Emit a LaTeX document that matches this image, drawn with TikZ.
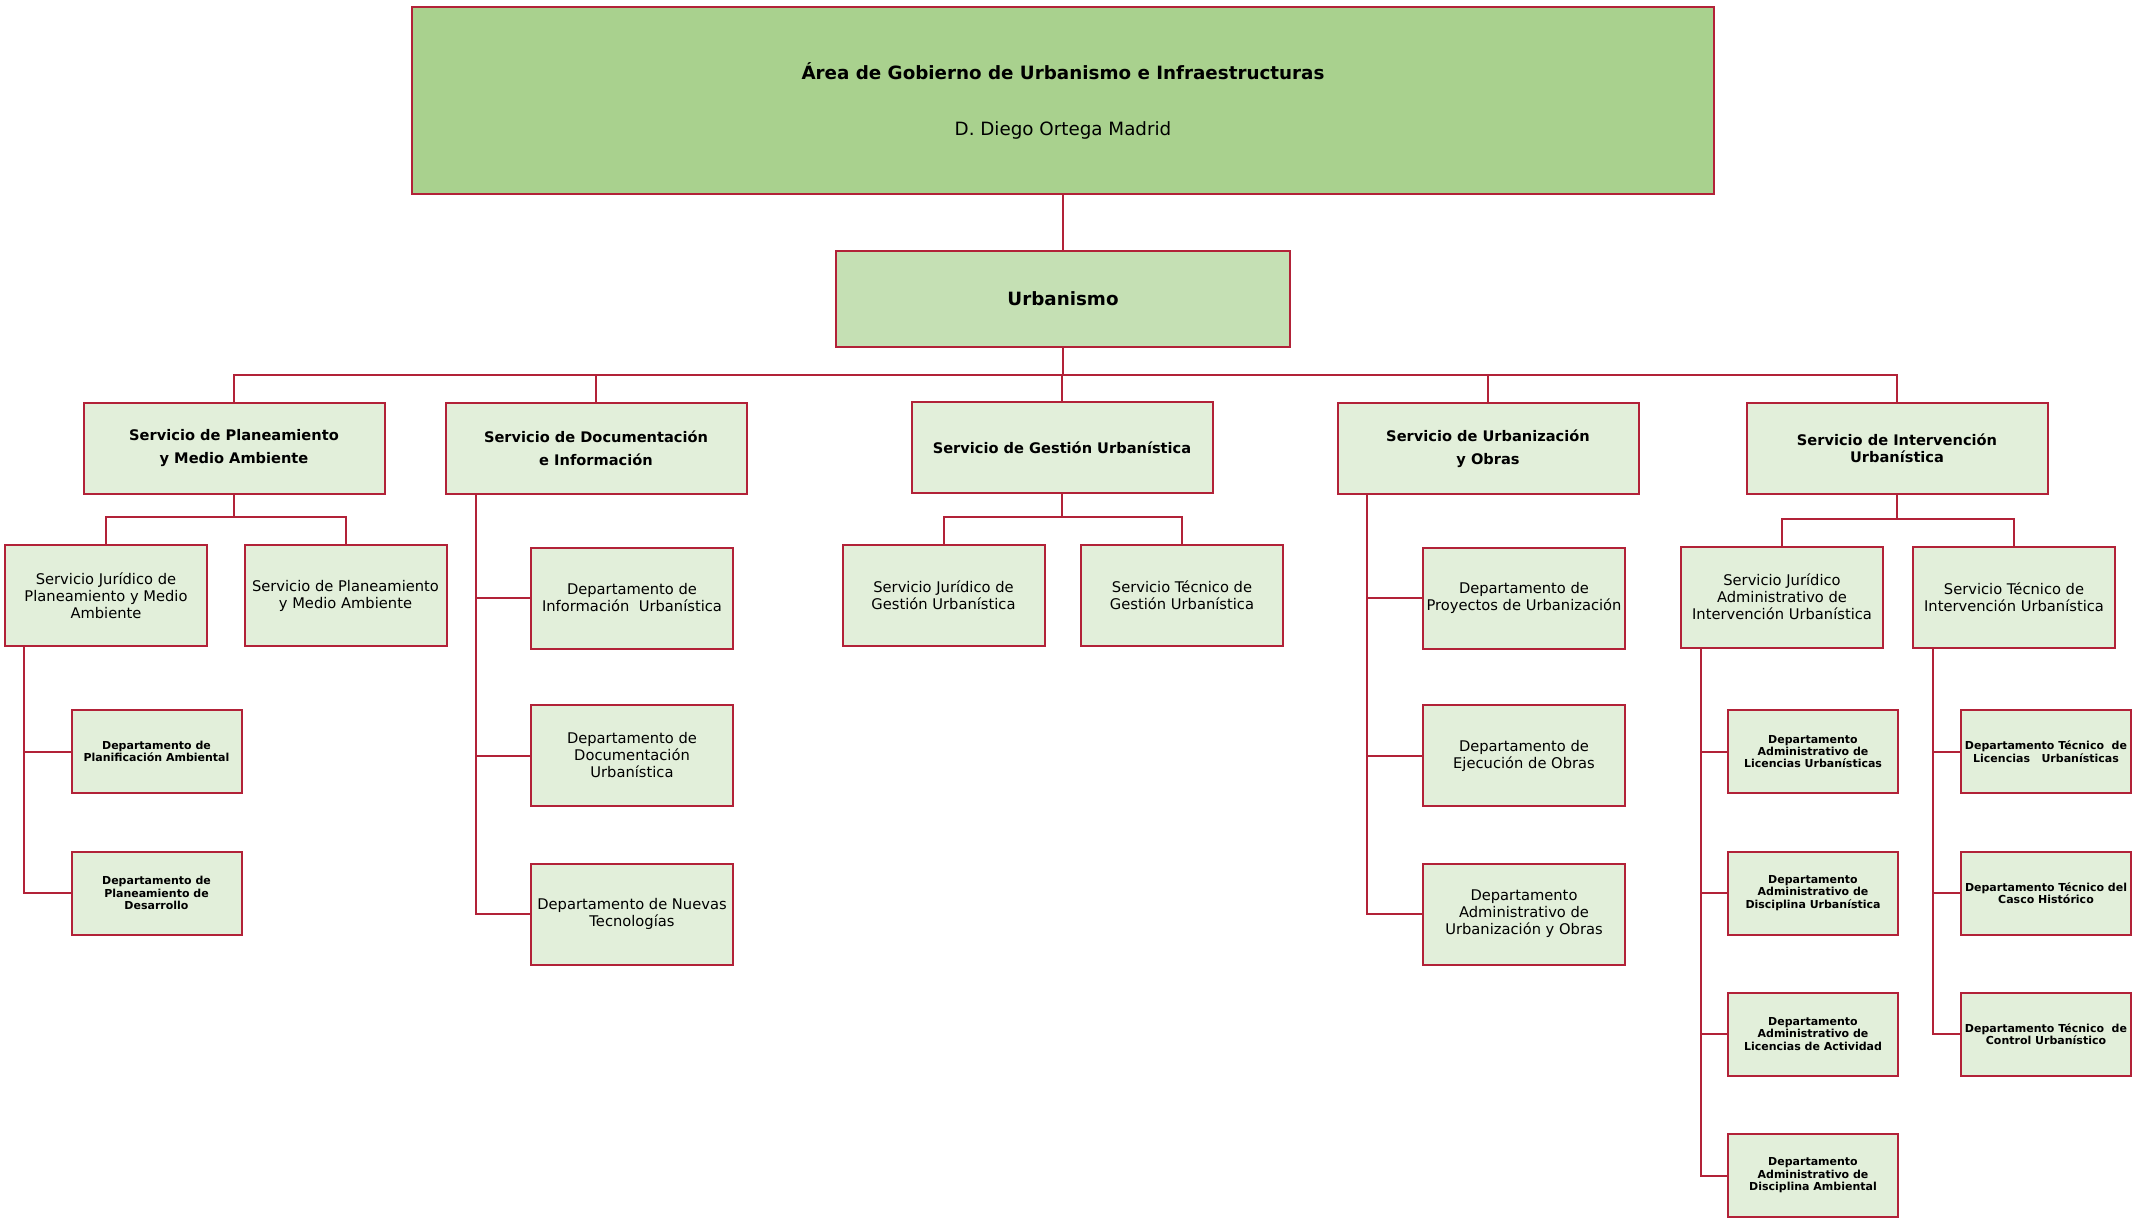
\documentclass[tikz,border=0pt]{standalone}
\usepackage{fontspec}
\setmainfont{DejaVu Sans}
\usetikzlibrary{calc}
\definecolor{lred}{RGB}{178,34,56}
\definecolor{topgreen}{HTML}{A9D18E}
\definecolor{midgreen}{HTML}{C5E0B4}
\definecolor{lightg}{HTML}{E2EFDA}
\tikzset{
  base/.style={draw=lred, line width=2pt, inner sep=1pt, align=center, anchor=center},
  topbox/.style={base, fill=topgreen, minimum width=1302pt, minimum height=187pt, font=\fontsize{18.3}{21}\selectfont},
  urbbox/.style={base, fill=midgreen, minimum width=454pt, minimum height=96pt, font=\fontsize{18.3}{21}\selectfont\bfseries},
  svc/.style={base, fill=lightg, minimum width=301pt, minimum height=91pt, font=\fontsize{14.6}{17}\selectfont\bfseries},
  sub/.style={base, fill=lightg, minimum width=202pt, minimum height=101pt, font=\fontsize{14.7}{17}\selectfont},
  small/.style={base, fill=lightg, minimum width=170pt, minimum height=83pt, font=\fontsize{11}{12.4}\selectfont\bfseries},
  conn/.style={draw=lred, line width=2pt}
}
\begin{document}
\begin{tikzpicture}[x=1pt,y=-1pt]
\useasboundingbox (0,0) rectangle (2152,1219);
\coordinate (bus1) at (0,375);
\coordinate (bus2) at (0,517);
\coordinate (bus3) at (0,519);

% level 0/1
\node[topbox] (top) at (1063,100.5) {{\bfseries Área de Gobierno de Urbanismo e Infraestructuras}\\[35pt]D. Diego Ortega Madrid};
\node[urbbox] (urb) at (1063,299) {Urbanismo};

% level 2
\node[svc] (spma) at (234,448.5) {Servicio de Planeamiento\\[6pt]y Medio Ambiente};
\node[svc] (sdi) at (596,448.5) {Servicio de Documentación\\[6pt]e Información};
\node[svc] (sgu) at (1062,447.5) {Servicio de Gestión Urbanística};
\node[svc] (suo) at (1488,448.5) {Servicio de Urbanización\\[6pt]y Obras};
\node[svc] (siu) at (1897,448.5) {Servicio de Intervención\\Urbanística};

% level 3
\node[sub] (sjpma) at (106,595.5) {Servicio Jurídico de\\Planeamiento y Medio\\Ambiente};
\node[sub] (spma2) at (345.5,595.5) {Servicio de Planeamiento\\y Medio Ambiente};
\node[sub] (sjgu) at (943.5,595.5) {Servicio Jurídico de\\Gestión Urbanística};
\node[sub] (stgu) at (1182,595.5) {Servicio Técnico de\\Gestión Urbanística};
\node[sub] (sjaiu) at (1782,597) {Servicio Jurídico\\Administrativo de\\Intervención Urbanística};
\node[sub] (stiu) at (2014,597) {Servicio Técnico de\\Intervención Urbanística};

% SDI departments
\node[sub] (dinf) at (632,598) {Departamento de\\Información\ \ Urbanística};
\node[sub] (ddoc) at (632,755.5) {Departamento de\\Documentación\\Urbanística};
\node[sub] (dnue) at (632,914) {Departamento de Nuevas\\Tecnologías};

% SUO departments
\node[sub] (dpro) at (1524,598) {Departamento de\\Proyectos de Urbanización};
\node[sub] (deje) at (1524,755.5) {Departamento de\\Ejecución de Obras};
\node[sub] (dadm) at (1524,914) {Departamento\\Administrativo de\\Urbanización y Obras};

% SJPMA departments
\node[small] (dpla) at (156.5,751.5) {Departamento de\\Planificación Ambiental};
\node[small] (ddes) at (156.5,893) {Departamento de\\Planeamiento de\\Desarrollo};

% SJAIU departments
\node[small] (dalu) at (1813,751.5) {Departamento\\Administrativo de\\Licencias Urbanísticas};
\node[small] (dadu) at (1813,893) {Departamento\\Administrativo de\\Disciplina Urbanística};
\node[small] (dala) at (1813,1034) {Departamento\\Administrativo de\\Licencias de Actividad};
\node[small] (dada) at (1813,1175.5) {Departamento\\Administrativo de\\Disciplina Ambiental};

% STIU departments
\node[small] (dtlu) at (2046,751.5) {Departamento Técnico\ \ de\\Licencias\ \ \ Urbanísticas};
\node[small] (dtch) at (2046,893) {Departamento Técnico del\\Casco Histórico};
\node[small] (dtcu) at (2046,1034) {Departamento Técnico\ \ de\\Control Urbanístico};

% connectors
\draw[conn] (top.south) -- (urb.north);
\foreach \n in {spma,sdi,sgu,suo,siu}
  \draw[conn] (urb.south) -- (urb.south |- bus1) -| (\n.north);

\foreach \n in {sjpma,spma2}
  \draw[conn] (spma.south) -- (spma.south |- bus2) -| (\n.north);
\foreach \n in {sjgu,stgu}
  \draw[conn] (sgu.south) -- (sgu.south |- bus2) -| (\n.north);
\foreach \n in {sjaiu,stiu}
  \draw[conn] (siu.south) -- (siu.south |- bus3) -| (\n.north);

\foreach \n in {dinf,ddoc,dnue}
  \draw[conn] ($(sdi.south west)+(31,0)$) |- (\n.west);
\foreach \n in {dpro,deje,dadm}
  \draw[conn] ($(suo.south west)+(30,0)$) |- (\n.west);
\foreach \n in {dpla,ddes}
  \draw[conn] ($(sjpma.south west)+(20,0)$) |- (\n.west);
\foreach \n in {dalu,dadu,dala,dada}
  \draw[conn] ($(sjaiu.south west)+(21,0)$) |- (\n.west);
\foreach \n in {dtlu,dtch,dtcu}
  \draw[conn] ($(stiu.south west)+(21,0)$) |- (\n.west);
\end{tikzpicture}
\end{document}
